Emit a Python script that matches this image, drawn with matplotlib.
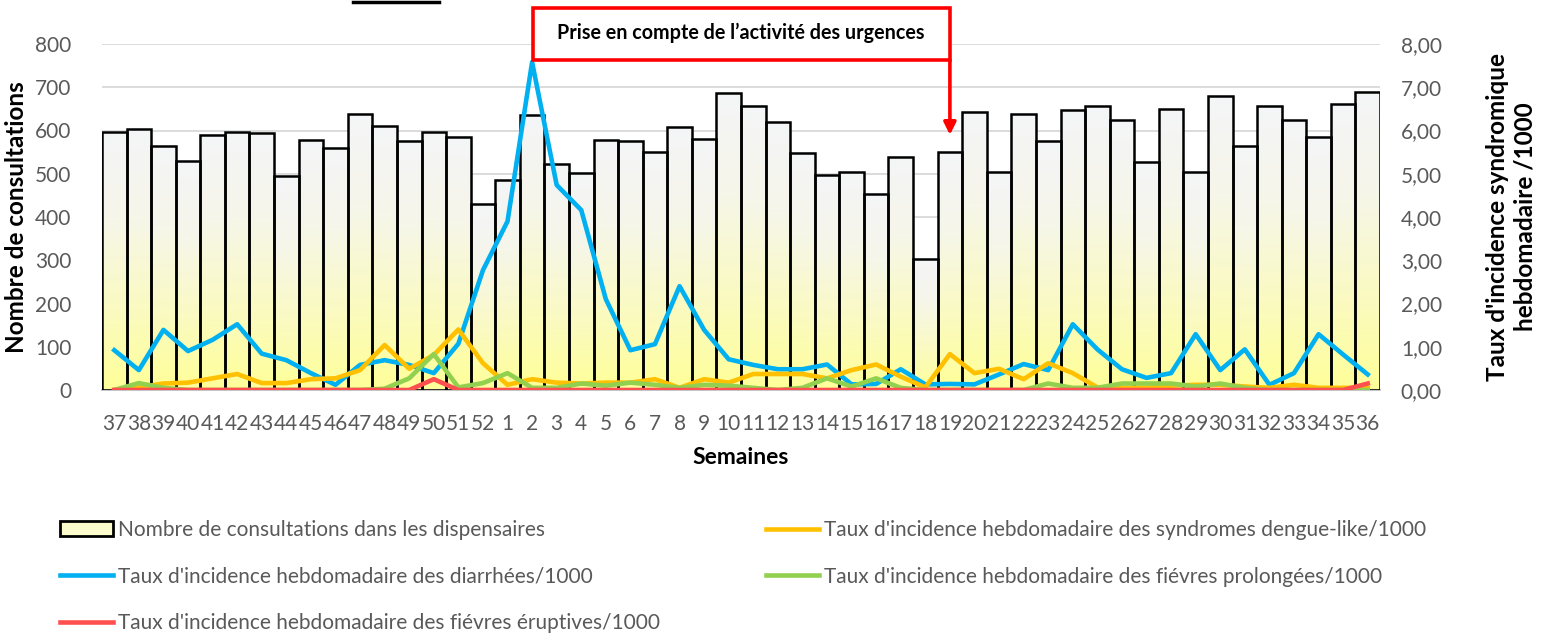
import numpy as np
import matplotlib
matplotlib.use("Agg")
import matplotlib.pyplot as plt
from matplotlib.colors import LinearSegmentedColormap
from matplotlib.patches import Rectangle
from matplotlib.lines import Line2D
from matplotlib.ticker import FuncFormatter, MultipleLocator

plt.rcParams['font.family'] = ['Lato', 'DejaVu Sans']

# weeks 37..52 then 1..36
weeks = [str(w) for w in range(37, 53)] + [str(w) for w in range(1, 37)]

consultations = [597, 603, 564, 529, 590, 597, 594, 495, 578, 560, 638, 610, 576, 597, 585, 430,
                 486, 635, 522, 502, 578, 576, 550, 608, 580, 687, 657, 619, 548, 497, 504, 453,
                 539, 303, 550, 643, 504, 638, 575, 647, 656, 624, 527, 649, 504, 680, 564, 657,
                 624, 585, 661, 690]

diarrhees = [0.92, 0.46, 1.39, 0.90, 1.16, 1.52, 0.84, 0.69, 0.39, 0.12, 0.58, 0.69, 0.58, 0.39, 1.07, 2.77,
             3.90, 7.58, 4.74, 4.16, 2.10, 0.92, 1.06, 2.40, 1.39, 0.71, 0.58, 0.48, 0.48, 0.59, 0.13, 0.14,
             0.48, 0.13, 0.14, 0.13, 0.36, 0.60, 0.46, 1.52, 0.94, 0.48, 0.28, 0.39, 1.29, 0.46, 0.94, 0.12,
             0.39, 1.29, 0.82, 0.36]

dengue = [0.0, 0.06, 0.15, 0.17, 0.27, 0.37, 0.16, 0.16, 0.25, 0.27, 0.46, 1.04, 0.49, 0.81, 1.40, 0.62,
          0.12, 0.25, 0.17, 0.15, 0.17, 0.17, 0.25, 0.05, 0.25, 0.17, 0.37, 0.37, 0.37, 0.27, 0.46, 0.59,
          0.31, 0.06, 0.83, 0.39, 0.49, 0.25, 0.62, 0.39, 0.06, 0.05, 0.05, 0.10, 0.12, 0.12, 0.08, 0.05,
          0.12, 0.05, 0.05, 0.05]

prolongees = [0.0, 0.16, 0.05, 0.0, 0.0, 0.0, 0.0, 0.0, 0.0, 0.0, 0.0, 0.03, 0.27, 0.83, 0.06, 0.16,
              0.39, 0.05, 0.05, 0.15, 0.10, 0.17, 0.12, 0.05, 0.12, 0.10, 0.05, 0.0, 0.05, 0.27, 0.08, 0.27,
              0.05, 0.0, 0.0, 0.0, 0.0, 0.0, 0.15, 0.05, 0.05, 0.15, 0.15, 0.15, 0.08, 0.15, 0.05, 0.0,
              0.0, 0.0, 0.0, 0.0]

eruptives = [0.0] * 13 + [0.25] + [0.0] * 37 + [0.15]

grey = '#595959'
fig = plt.figure(figsize=(15.46, 6.33), dpi=100)
ax = fig.add_axes([102 / 1546, 1 - 390 / 633, (1380 - 102) / 1546, (390 - 44) / 633])
x = np.arange(len(weeks))

bars = ax.bar(x, consultations, width=1.0, facecolor='none', edgecolor='black', linewidth=1.8, zorder=3)

# vertical gradient inside each bar (yellow at the bottom, light grey at the top)
cmap = LinearSegmentedColormap.from_list('g', ['#FFFF99', '#FAFAC4', '#F6F6EA', '#F4F5F7'])
grad = np.linspace(0, 1, 256).reshape(-1, 1)
for p in bars:
    ax.imshow(grad, extent=(p.get_x(), p.get_x() + p.get_width(), 0, p.get_height()),
              aspect='auto', cmap=cmap, origin='lower', zorder=2, interpolation='bilinear')

ax.set_xlim(-0.5, len(weeks) - 0.5)
ax.set_ylim(0, 800)
ax.yaxis.set_major_locator(MultipleLocator(100))
ax.grid(axis='y', color='#D9D9D9', linewidth=1.3, zorder=0)
ax.set_axisbelow(True)
for s in ['top', 'right', 'left']:
    ax.spines[s].set_visible(False)
ax.spines['bottom'].set_color('#BFBFBF')
ax.spines['bottom'].set_linewidth(1.3)
ax.set_xticks(x)
ax.set_xticklabels(weeks)
ax.tick_params(axis='both', length=0, labelcolor=grey, labelsize=15)
ax.tick_params(axis='x', pad=17)
ax.tick_params(axis='y', pad=22)
ax.set_ylabel('Nombre de consultations', fontsize=17.5, fontweight='bold', labelpad=5)
ax.set_xlabel('Semaines', fontsize=16.5, fontweight='bold', labelpad=10)

ax2 = ax.twinx()
l_blue, = ax2.plot(x, diarrhees, color='#00B0F0', linewidth=3.3)
l_orange, = ax2.plot(x, dengue, color='#FFC000', linewidth=3.3)
l_green, = ax2.plot(x, prolongees, color='#92D050', linewidth=3.3)
l_red, = ax2.plot(x, eruptives, color='#FF5050', linewidth=3.3)
ax2.set_ylim(0, 8)
ax2.yaxis.set_major_locator(MultipleLocator(1))
ax2.yaxis.set_major_formatter(FuncFormatter(lambda v, _: f'{v:.2f}'.replace('.', ',')))
ax2.tick_params(axis='y', length=0, labelcolor=grey, labelsize=15, pad=15)
for s in ['top', 'right', 'left', 'bottom']:
    ax2.spines[s].set_visible(False)
ax2.set_ylabel("Taux d'incidence syndromique\nhebdomadaire /1000", fontsize=17.5,
               fontweight='bold', labelpad=32, linespacing=1.2, rotation=90)

# annotation box and arrow
fig.patches.append(Rectangle((533 / 1546, 1 - 60 / 633), (950 - 533) / 1546, 52 / 633,
                             transform=fig.transFigure, facecolor='white', edgecolor='#FF0000',
                             linewidth=2.6, zorder=5))
fig.text(741 / 1546, 1 - 33 / 633, 'Prise en compte de l’activité des urgences',
         ha='center', va='center', fontsize=14.2, fontweight='bold', zorder=6)
ax.annotate('', xy=(34, 590), xytext=(34, 763), xycoords='data',
            arrowprops=dict(arrowstyle='-|>', color='#FF0000', lw=2.6, mutation_scale=18,
                            shrinkA=0, shrinkB=0),
            annotation_clip=False, zorder=6)
fig.lines.append(Line2D([353 / 1546, 439 / 1546], [1 - 2 / 633, 1 - 2 / 633],
                        transform=fig.transFigure, color='black', linewidth=2.5))

# legends
bar_handle = Rectangle((0, 0), 1, 1, facecolor='#FBFBCC', edgecolor='black', linewidth=2)
leg_kw = dict(frameon=False, fontsize=15, handlelength=2.55, handletextpad=0.25,
              labelspacing=1.28, labelcolor=grey, borderaxespad=0, borderpad=0)
leg1 = fig.legend([bar_handle, l_blue, l_red],
                  ['Nombre de consultations dans les dispensaires',
                   "Taux d'incidence hebdomadaire des diarrhées/1000",
                   "Taux d'incidence hebdomadaire des fiévres éruptives/1000"],
                  loc='upper left', bbox_to_anchor=(60 / 1546, 1 - 520 / 633), **leg_kw)
leg2 = fig.legend([l_orange, l_green],
                  ["Taux d'incidence hebdomadaire des syndromes dengue-like/1000",
                   "Taux d'incidence hebdomadaire des fiévres prolongées/1000"],
                  loc='upper left', bbox_to_anchor=(766 / 1546, 1 - 520 / 633), **leg_kw)

fig.savefig('out.png', dpi=100, facecolor='white')
